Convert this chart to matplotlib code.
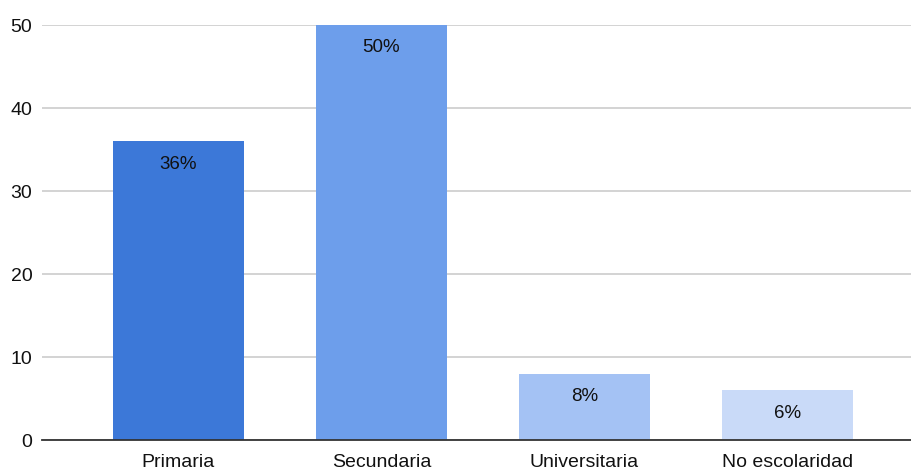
import matplotlib
matplotlib.use("Agg")
import matplotlib.pyplot as plt

plt.rcParams['font.family'] = ['Liberation Sans', 'DejaVu Sans']

# data
categories = ["Primaria", "Secundaria", "Universitaria", "No escolaridad"]
values = [36, 50, 8, 6]
labels = ["36%", "50%", "8%", "6%"]
colors = ["#3c78d8", "#6d9eeb", "#a4c2f4", "#c9daf8"]

fig = plt.figure(figsize=(9.11, 4.70), dpi=100)
ax = fig.add_axes([0.0461, 0.0638, 0.9539, 0.883])

x = list(range(len(categories)))
bars = ax.bar(x, values, width=0.645, color=colors, zorder=3)

for b, lab in zip(bars, labels):
    ax.annotate(lab, (b.get_x() + b.get_width() / 2, b.get_height()),
                xytext=(0, -16.5), textcoords="offset points",
                ha="center", va="center", fontsize=13.5, color="#111111", zorder=4)

ax.set_xlim(-0.672, 3.61)
ax.set_ylim(0, 50)
ax.set_yticks([0, 10, 20, 30, 40, 50])
ax.set_xticks(x)
ax.set_xticklabels(categories)
ax.tick_params(axis="both", length=0, labelsize=14, colors="#111111")
ax.tick_params(axis="x", pad=10)
ax.tick_params(axis="y", pad=7)

ax.grid(axis="y", color="#cccccc", linewidth=1.2, zorder=0)
for s in ["top", "right", "left"]:
    ax.spines[s].set_visible(False)
ax.spines["bottom"].set_color("#333333")
ax.spines["bottom"].set_linewidth(1.3)
ax.spines["bottom"].set_zorder(5)

fig.savefig("out.png", dpi=100)
